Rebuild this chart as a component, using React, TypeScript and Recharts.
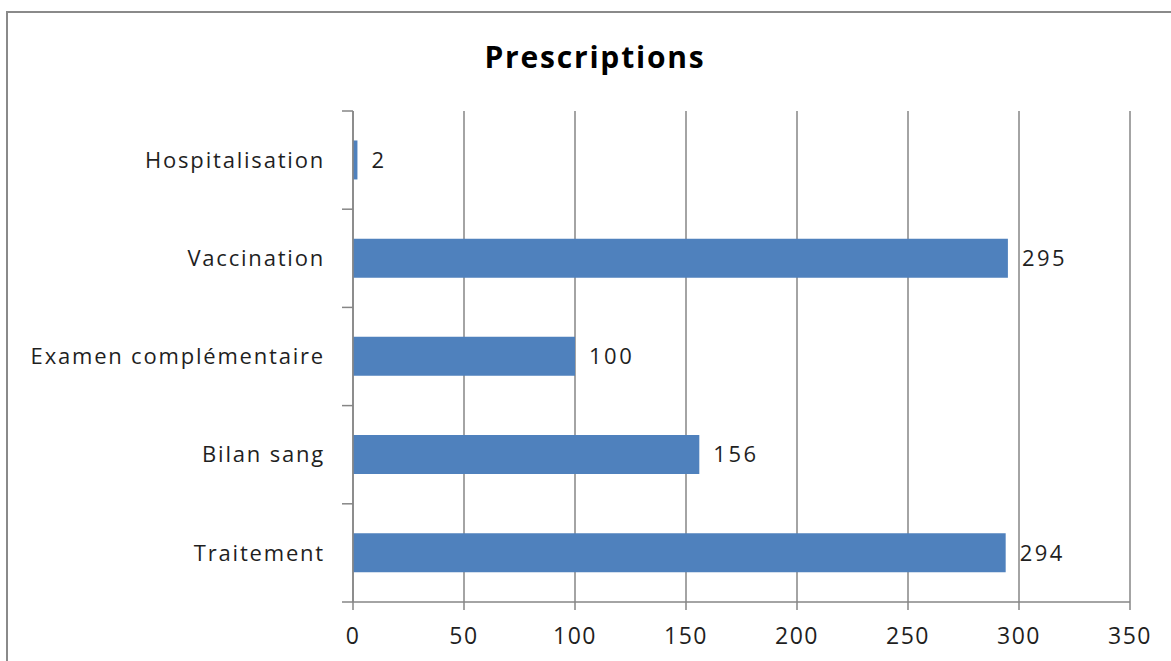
import React from "react";
import { BarChart, Bar, XAxis, YAxis, CartesianGrid, LabelList } from "recharts";

const categories = ["Hospitalisation", "Vaccination", "Examen complémentaire", "Bilan sang", "Traitement"];
const values = [2, 295, 100, 156, 294];
const xTicks = [0, 50, 100, 150, 200, 250, 300, 350];
const title = "Prescriptions";

const data = categories.map((name, i) => ({ name, value: values[i] }));

const W = 1171;
const H = 661;
const M = { top: 111, right: 41, bottom: 9, left: 0 };
const X_AXIS_H = 50;
const Y_AXIS_W = 353;
const PLOT_H = H - M.top - M.bottom - X_AXIS_H;
const BAND = PLOT_H / categories.length;
const FONT = "'Open Sans', 'DejaVu Sans', sans-serif";
const AXIS_COLOR = "#868686";
const TEXT = "#1f1f1f";

const YTick = (props: any) => {
  const { x, y, payload, index } = props;
  const ax = x + 8;
  const top = y - BAND / 2;
  const bottom = y + BAND / 2;
  return (
    <g>
      <line x1={ax - 11} x2={ax} y1={top} y2={top} stroke={AXIS_COLOR} strokeWidth={1.5} />
      {index === categories.length - 1 ? (
        <line x1={ax - 11} x2={ax} y1={bottom} y2={bottom} stroke={AXIS_COLOR} strokeWidth={1.5} />
      ) : null}
      <text
        x={ax - 28}
        y={y}
        dy="0.35em"
        textAnchor="end"
        fontSize={22}
        letterSpacing={1.8}
        fill={TEXT}
        fontFamily={FONT}
      >
        {payload.value}
      </text>
    </g>
  );
};

export default function App() {
  return (
    <div style={{ position: "fixed", left: 0, top: 0, width: W, height: H, overflow: "hidden", background: "#fff" }}>
      <div
        style={{
          position: "absolute",
          left: 6,
          top: 11,
          width: 1200,
          height: 700,
          border: "2px solid #8a8a8a",
          boxSizing: "border-box",
        }}
      />
      <div
        style={{
          position: "absolute",
          left: 0,
          top: 36,
          width: 1190,
          textAlign: "center",
          fontFamily: FONT,
          fontWeight: 700,
          fontSize: 30,
          letterSpacing: 1.8,
          color: "#000",
          lineHeight: "42px",
        }}
      >
        {title}
      </div>
      <div style={{ position: "absolute", left: 0, top: 0 }}>
        <BarChart width={W} height={H} data={data} layout="vertical" margin={M} barCategoryGap="30%">
          <CartesianGrid horizontal={false} stroke={AXIS_COLOR} strokeWidth={1.5} />
          <XAxis
            type="number"
            domain={[0, 350]}
            ticks={xTicks}
            interval={0}
            height={X_AXIS_H}
            tickSize={8}
            tickMargin={18}
            stroke={AXIS_COLOR}
            strokeWidth={1.5}
            tick={{ fill: TEXT, fontSize: 23, fontFamily: FONT, letterSpacing: 1.5 }}
          />
          <YAxis
            type="category"
            dataKey="name"
            width={Y_AXIS_W}
            interval={0}
            tickLine={false}
            stroke={AXIS_COLOR}
            strokeWidth={1.5}
            tick={<YTick />}
          />
          <Bar dataKey="value" fill="#4F81BD" isAnimationActive={false}>
            <LabelList
              dataKey="value"
              position="right"
              offset={14}
              fill={TEXT}
              fontSize={22}
              letterSpacing={2.5}
              fontFamily={FONT}
            />
          </Bar>
        </BarChart>
      </div>
    </div>
  );
}
